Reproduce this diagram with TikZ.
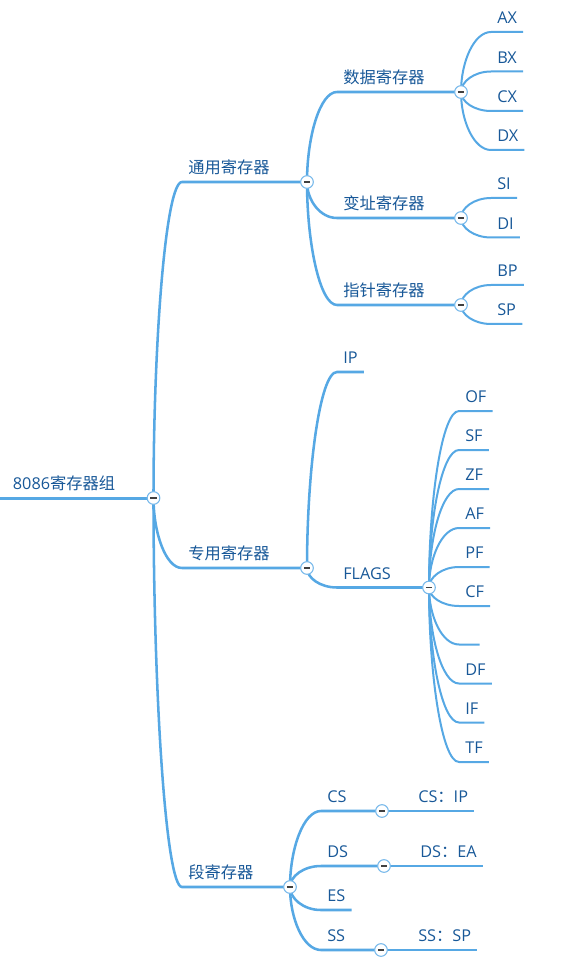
\documentclass[tikz,border=0pt]{standalone}
\usepackage{fontspec}
\setmainfont{Open Sans}
\newfontfamily\cjk{Noto Sans CJK SC}
\usetikzlibrary{calc}

\definecolor{branchblue}{RGB}{86,168,228}
\definecolor{topicblue}{RGB}{24,88,152}
\definecolor{foldring}{RGB}{120,185,235}

\tikzset{
	topic/.style = {anchor = south west, inner xsep = 4.5pt, inner ysep = 6pt, text depth = 0pt, text = topicblue, font = \fontsize{12.2}{14}\selectfont},
	trunk/.style = {draw = branchblue, line width = 2.25pt},
	bough/.style = {draw = branchblue, line width = 1.9pt},
	twig/.style = {draw = branchblue, line width = 1.5pt},
	branch/.style = {to path = {let \p1 = (\tikztostart), \p2 = (\tikztotarget) in .. controls (\x1, {0.5*\y1 + 0.5*\y2}) and ({0.57*\x1 + 0.43*\x2}, \y2) .. (\tikztotarget)}},
	fold/.style = {circle, draw = foldring, fill = white, line width = 0.8pt, minimum size = 9.5pt, inner sep = 0pt}
}

\begin{document}
\begin{tikzpicture}[x = 0.75pt, y = -0.75pt]
	\useasboundingbox (0,0) rectangle (575,969);
	
	% fold points
	\coordinate (c-root) at (153.5,498);
	\coordinate (c-tongyong) at (307,182);
	\coordinate (c-zhuanyong) at (307,568);
	\coordinate (c-duan) at (290,887);
	\coordinate (c-shuju) at (461,92);
	\coordinate (c-bianzhi) at (461,218);
	\coordinate (c-zhizhen) at (461,305);
	\coordinate (c-flags) at (429,587.5);
	\coordinate (c-CS) at (382,811);
	\coordinate (c-DS) at (384,866);
	\coordinate (c-SS) at (381,950);
	
	% topics
	\node[topic, inner xsep = 9.5pt] (root) at (0,498) {8086{\cjk 寄存器组}};
	
	\node[topic] (tongyong) at (182,182) {\cjk 通用寄存器};
	\node[topic] (zhuanyong) at (182,568) {\cjk 专用寄存器};
	\node[topic] (duan) at (182,887) {\cjk 段寄存器};
	
	\node[topic] (shuju) at (337,92) {\cjk 数据寄存器};
	\node[topic] (bianzhi) at (337,218) {\cjk 变址寄存器};
	\node[topic] (zhizhen) at (337,305) {\cjk 指针寄存器};
	\foreach \name/\y in {AX/32, BX/71.5, CX/111, DX/150, SI/198, DI/237.5, BP/285, SP/324}
		\node[topic] (\name) at (491,\y) {\name};
	
	\node[topic] (IP) at (337,372) {IP};
	\node[topic] (flags) at (337,587.5) {FLAGS};
	\foreach \name/\y in {OF/411, SF/450, ZF/489, AF/528, PF/567, CF/606, DF/683.5, IF/722.5, TF/762}
		\node[topic] (\name) at (459,\y) {\name};
	\node[topic, minimum width = 15pt] (blank) at (459,644.5) {};
	
	\node[topic] (CS) at (321,811) {CS};
	\node[topic] (DS) at (321,866) {DS};
	\node[topic] (ES) at (321,910) {ES};
	\node[topic] (SS) at (321,950) {SS};
	\node[topic] (csip) at (412,811) {CS{\cjk ：}IP};
	\node[topic] (dsea) at (414,866) {DS{\cjk ：}EA};
	\node[topic] (sssp) at (412,950) {SS{\cjk ：}SP};
	
	% branches
	\draw[trunk] (root.south west) -- (c-root);
	\foreach \name in {tongyong, zhuanyong, duan}
		\draw[bough] (c-root) to[branch] (\name.south west) -- (c-\name);
	
	\foreach \name in {shuju, bianzhi, zhizhen}
		\draw[bough] (c-tongyong) to[branch] (\name.south west) -- (c-\name);
	\foreach \name in {AX, BX, CX, DX}
		\draw[twig] (c-shuju) to[branch] (\name.south west) -- (\name.south east);
	\foreach \name in {SI, DI}
		\draw[twig] (c-bianzhi) to[branch] (\name.south west) -- (\name.south east);
	\foreach \name in {BP, SP}
		\draw[twig] (c-zhizhen) to[branch] (\name.south west) -- (\name.south east);
	
	\draw[bough] (c-zhuanyong) to[branch] (IP.south west) -- (IP.south east);
	\draw[bough] (c-zhuanyong) to[branch] (flags.south west) -- (c-flags);
	\foreach \name in {OF, SF, ZF, AF, PF, CF, blank, DF, IF, TF}
		\draw[twig] (c-flags) to[branch] (\name.south west) -- (\name.south east);
	
	\foreach \name in {CS, DS, SS}
		\draw[bough] (c-duan) to[branch] (\name.south west) -- (c-\name);
	\draw[bough] (c-duan) to[branch] (ES.south west) -- (ES.south east);
	\draw[twig] (c-CS) -- (csip.south east);
	\draw[twig] (c-DS) -- (dsea.south east);
	\draw[twig] (c-SS) -- (sssp.south east);
	
	% fold buttons
	\foreach \name in {root, tongyong, zhuanyong, duan, shuju, bianzhi, zhizhen, flags, CS, DS, SS}
		\node[fold] (f-\name) at (c-\name) {\color{black!75}\rule[-0.6pt]{4.8pt}{1.2pt}};
\end{tikzpicture}
\end{document}
